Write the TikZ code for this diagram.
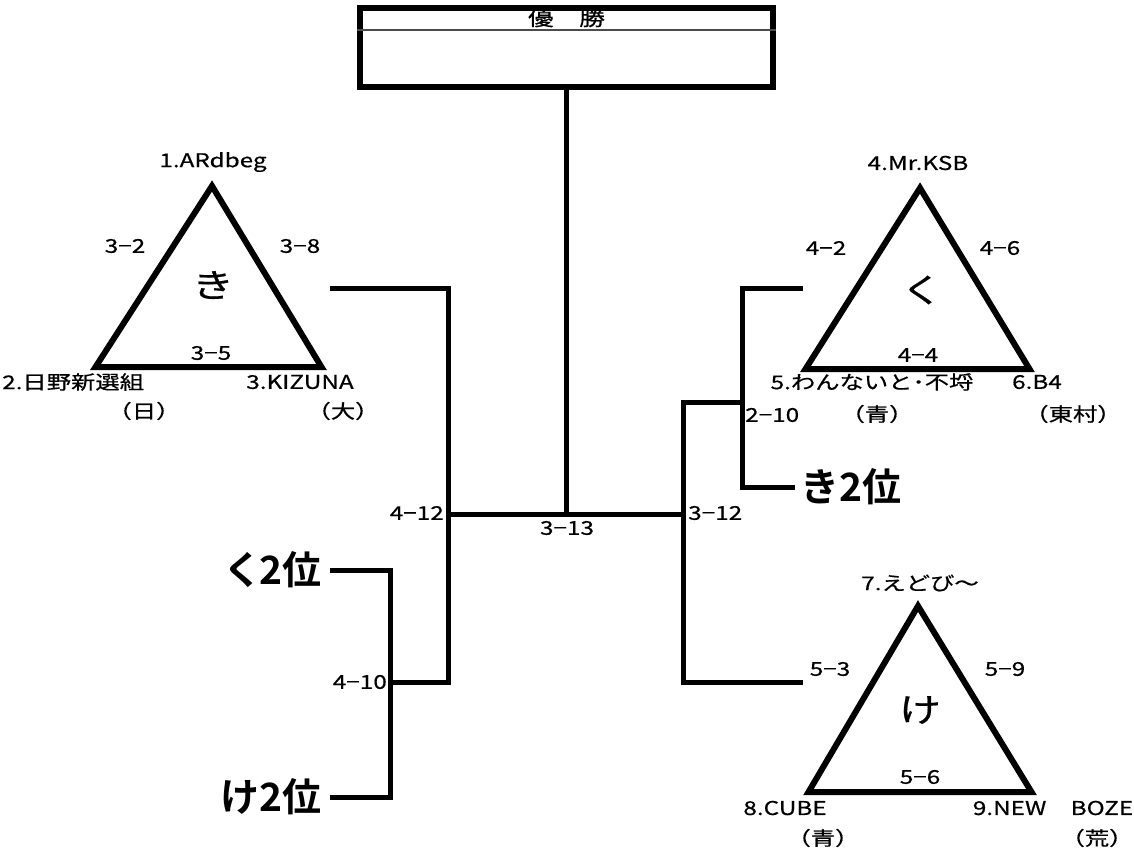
\documentclass[tikz,border=0pt]{standalone}
\usepackage{fontspec}
\newfontfamily\jp[FakeStretch=1.28, FakeBold=0.6]{Noto Sans CJK JP}
\newfontfamily\jpb{Noto Sans CJK JP Bold}
\usetikzlibrary{positioning}

\begin{document}
\begin{tikzpicture}[x=1pt,y=-1pt,
    lbl/.style={font=\jp\fontsize{19}{20}\selectfont, inner sep=0pt},
    big/.style={font=\jp\fontsize{33}{34}\selectfont, inner sep=0pt},
    rank/.style={font=\jpb\fontsize{39}{40}\selectfont, inner sep=0pt},
    tri/.style={line width=6pt, line join=miter},
    br/.style={line width=5pt}]
    \useasboundingbox (0,0) rectangle (1134,854);

    % 優勝
    \node[draw, line width=6pt, minimum width=413pt, minimum height=79pt, inner sep=0pt] (win) at (566.5,47.5) {};
    \draw[line width=1.2pt, black!70] ([yshift=-25pt]win.north west) -- ([yshift=-25pt]win.north east);
    \node[lbl, font=\jp\fontsize{20}{20}\selectfont] (wintitle) at ([yshift=-13pt]win.north) {優　勝};

    % グループ き
    \begin{scope}[shift={(212,186)}]
        \draw[tri] (0,0) -- (-116.5,181) -- (109.5,181) -- cycle;
        \node[lbl] (ki1) at (1,-24) {1.ARdbeg};
        \node[lbl] (ki12) at (-87,60) {3−2};
        \node[lbl] (ki13) at (88,60) {3−8};
        \node[big] (ki) at (1,99) {き};
        \node[lbl] (ki23) at (-1,167) {3−5};
        \node[lbl, anchor=west] (ki2) at (-210,196) {2.日野新選組};
        \node[lbl] (ki2s) at (-68,225) {（日）};
        \node[lbl] (ki3) at (88,196) {3.KIZUNA};
        \node[lbl] (ki3s) at (131,225) {（大）};
    \end{scope}

    % グループ く
    \begin{scope}[shift={(920,188)}]
        \draw[tri] (0,0) -- (-114.5,181) -- (109.5,181) -- cycle;
        \node[lbl] (ku4) at (-2,-25) {4.Mr.KSB};
        \node[lbl] (ku45) at (-94,60) {4−2};
        \node[lbl] (ku46) at (80,60) {4−6};
        \node[big] (ku) at (2,102) {く};
        \node[lbl] (ku56) at (-2,167) {4−4};
        \node[lbl] (ku5) at (-48,194) {5.わんないと･不埒};
        \node[lbl] (ku5s) at (-43,226) {（青）};
        \node[lbl] (ku6) at (117,194) {6.B4};
        \node[lbl] (ku6s) at (153,226) {（東村）};
    \end{scope}

    % グループ け
    \begin{scope}[shift={(918,606)}]
        \draw[tri] (0,0) -- (-109.5,186) -- (113.5,186) -- cycle;
        \node[lbl] (ke7) at (2,-23) {7.えどび～};
        \node[lbl] (ke78) at (-88,63) {5−3};
        \node[lbl] (ke79) at (87,63) {5−9};
        \node[big] (ke) at (2,104) {け};
        \node[lbl] (ke89) at (2,171) {5−6};
        \node[lbl] (ke8) at (-133,202) {8.CUBE};
        \node[lbl] (ke8s) at (-95,232) {（青）};
        \node[lbl] (ke9) at (135,202) {9.NEW　BOZE};
        \node[lbl] (ke9s) at (179,232) {（荒）};
    \end{scope}

    % トーナメント
    \coordinate (final) at (566.5,514);
    \coordinate (sf-l) at (448,514);
    \coordinate (sf-r) at (683,514);
    \coordinate (qf-l) at (390,682);
    \coordinate (qf-r) at (742,402);
    \coordinate (ki-end) at (330,288);
    \coordinate (ku-end) at (803,288);
    \coordinate (ke-end) at (803,682);
    \coordinate (ku2-end) at (330,570);
    \coordinate (ke2-end) at (330,797);
    \coordinate (ki2-end) at (795,487);

    \node[rank, left=8pt of ku2-end] (ku2) {く\kern-3pt 2位};
    \node[rank, left=8pt of ke2-end] (ke2) {け2位};
    \node[rank, right=5pt of ki2-end] (ki2nd) {き2位};

    \draw[br] (win.south) -- (final);
    \draw[br] (sf-l) -- (sf-r);
    \draw[br] (ki-end) -- (ki-end -| sf-l) -- (sf-l |- qf-l) -- (qf-l);
    \draw[br] (ku2-end) -| (qf-l |- ke2-end) -- (ke2-end);
    \draw[br] (qf-r) -- (qf-r -| sf-r) -- (sf-r |- ke-end) -- (ke-end);
    \draw[br] (ku-end) -| (qf-r |- ki2-end) -- (ki2-end);

    \node[lbl, anchor=east] (m412) at (444,513) {4−12};
    \node[lbl] (m313) at (567,528) {3−13};
    \node[lbl, anchor=west] (m312) at (688,513) {3−12};
    \node[lbl, anchor=east] (m410) at (387,682) {4−10};
    \node[lbl, anchor=west] (m210) at (745,415) {2−10};
\end{tikzpicture}
\end{document}
